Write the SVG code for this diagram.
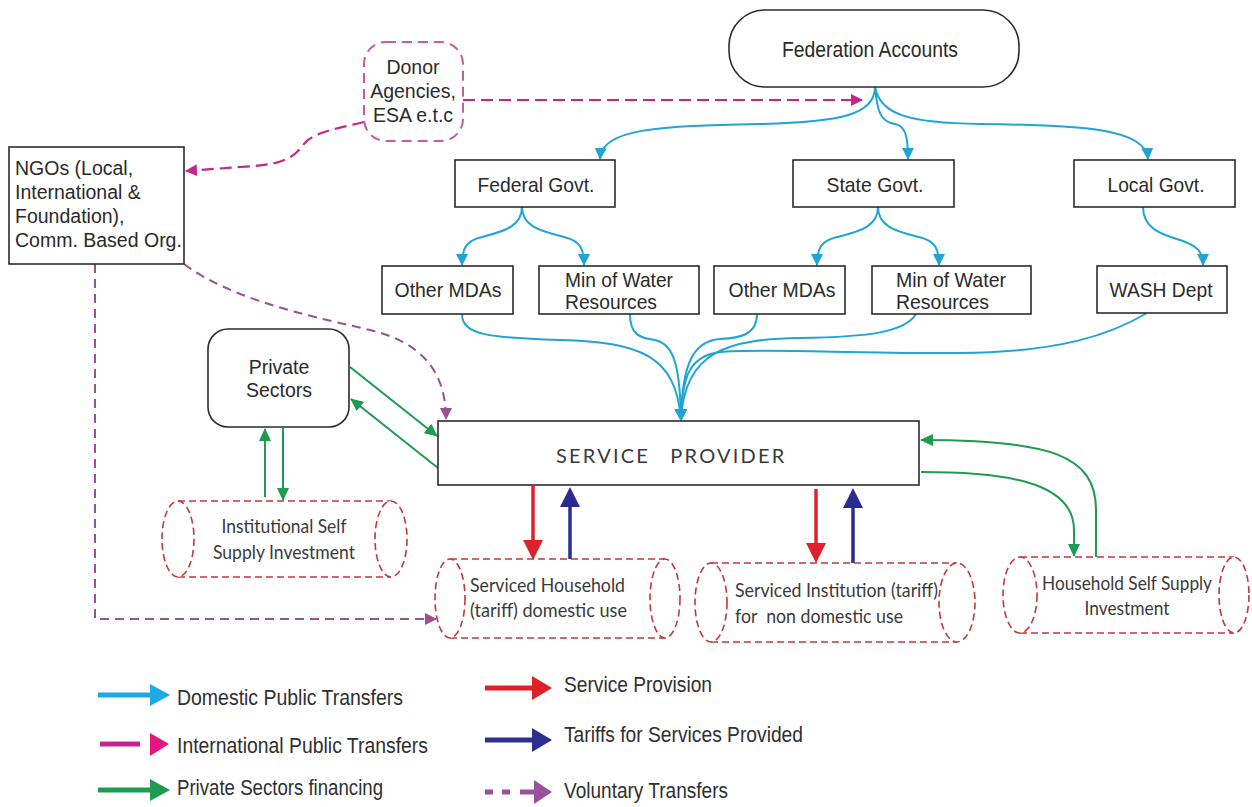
<svg xmlns="http://www.w3.org/2000/svg" width="1252" height="807" viewBox="0 0 1252 807">
<defs>
<style>
.box{fill:#fff;stroke:#2b2b2b;stroke-width:1.6}
.lbl{font-family:"Liberation Sans",Arial,sans-serif;fill:#2a2a2a}
.cal{font-family:Lato,"Open Sans",sans-serif;fill:#3a3a3a}
.cyl{fill:#fff;stroke:#c0393b;stroke-width:1.6;stroke-dasharray:7 4}
.cy{fill:none;stroke:#1ea5d5;stroke-width:2}
.gr{fill:none;stroke:#1e9a52;stroke-width:2}
.mg{fill:none;stroke:#c4268e;stroke-width:2.2;stroke-dasharray:12 6}
.vi{fill:none;stroke:#9b4f96;stroke-width:2;stroke-dasharray:9 6}
.leg{font-family:"Liberation Sans",Arial,sans-serif;font-size:22px;fill:#2f2f2f}
</style>
<marker id="mCy" markerUnits="userSpaceOnUse" markerWidth="12" markerHeight="12" refX="11" refY="6" orient="auto"><path d="M0,0 L12,6 L0,12 z" fill="#1ea5d5"/></marker>
<marker id="mGr" markerUnits="userSpaceOnUse" markerWidth="13" markerHeight="12" refX="12" refY="6" orient="auto"><path d="M0,0 L13,6 L0,12 z" fill="#1e9a52"/></marker>
<marker id="mMg" markerUnits="userSpaceOnUse" markerWidth="12" markerHeight="12" refX="11" refY="6" orient="auto"><path d="M0,0 L12,6 L0,12 z" fill="#c4268e"/></marker>
<marker id="mVi" markerUnits="userSpaceOnUse" markerWidth="12" markerHeight="12" refX="11" refY="6" orient="auto"><path d="M0,0 L12,6 L0,12 z" fill="#9b4f96"/></marker>
</defs>
<rect width="1252" height="807" fill="#ffffff"/>

<g id="connectors">
<!-- international public transfers -->
<path class="mg" d="M463,100 L862,100" marker-end="url(#mMg)"/>
<path class="mg" d="M364,122 C340,128 312,132 303,145 C292,160 280,165 240,167 L186,171" marker-end="url(#mMg)"/>
<!-- domestic public transfers -->
<path class="cy" d="M875,87 C875,115 840,122 760,124 C660,126 602,128 600,159" marker-end="url(#mCy)"/>
<path class="cy" d="M875,87 C877,110 880,122 895,124 C905,126 908,135 908,159" marker-end="url(#mCy)"/>
<path class="cy" d="M875,87 C880,115 910,123 980,124 C1080,125 1146,128 1148,159" marker-end="url(#mCy)"/>
<path class="cy" d="M522,207 C522,228 500,232 482,237 C466,241 462,248 462,265" marker-end="url(#mCy)"/>
<path class="cy" d="M522,207 C522,228 545,232 564,237 C580,241 584,248 584,265" marker-end="url(#mCy)"/>
<path class="cy" d="M878,207 C878,228 856,232 837,237 C821,241 817,248 817,265" marker-end="url(#mCy)"/>
<path class="cy" d="M878,207 C878,228 900,232 919,237 C935,241 939,248 939,265" marker-end="url(#mCy)"/>
<path class="cy" d="M1143,207 C1143,228 1160,234 1180,240 C1198,246 1203,252 1203,265" marker-end="url(#mCy)"/>
<path class="cy" d="M462,314 C462,335 490,338 560,340 C640,342 676,355 681,420" marker-end="url(#mCy)"/>
<path class="cy" d="M630,314 C630,335 640,338 655,340 C672,344 680,360 681,420" marker-end="url(#mCy)"/>
<path class="cy" d="M757,314 C757,335 740,338 720,339 C695,341 682,360 681,420" marker-end="url(#mCy)"/>
<path class="cy" d="M916,314 C905,332 870,337 800,338 C730,339 684,350 681,420" marker-end="url(#mCy)"/>
<path class="cy" d="M1147,313 C1110,335 1060,352 960,353 C860,354 760,348 720,352 C690,356 682,375 681,420" marker-end="url(#mCy)"/>
<!-- private sector financing -->
<path class="gr" d="M350,367 L437,436" marker-end="url(#mGr)"/>
<path class="gr" d="M438,468 L351,399" marker-end="url(#mGr)"/>
<path class="gr" d="M265,497 L265,429" marker-end="url(#mGr)"/>
<path class="gr" d="M283,428 L283,500" marker-end="url(#mGr)"/>
<path class="gr" d="M1096,557 L1096,510 C1096,455 1050,440 921,440" marker-end="url(#mGr)"/>
<path class="gr" d="M921,472 C1000,472 1074,480 1074,530 L1074,556" marker-end="url(#mGr)"/>
<!-- voluntary transfers -->
<path class="vi" d="M95,264 L95,619 L436,619" marker-end="url(#mVi)"/>
<path class="vi" d="M184,264 C235,302 320,318 370,330 C420,342 446,370 446,419" marker-end="url(#mVi)"/>
<!-- service provision / tariffs -->
<line x1="533" y1="486" x2="533" y2="542" stroke="#e0202a" stroke-width="3.5"/>
<polygon points="523,540 543,540 533,560" fill="#e0202a"/>
<line x1="570" y1="559" x2="570" y2="505" stroke="#2a2d8f" stroke-width="3.5"/>
<polygon points="560,507 580,507 570,487" fill="#2a2d8f"/>
<line x1="816" y1="489" x2="816" y2="545" stroke="#e0202a" stroke-width="3.5"/>
<polygon points="806,543 826,543 816,563" fill="#e0202a"/>
<line x1="853" y1="563" x2="853" y2="506" stroke="#2a2d8f" stroke-width="3.5"/>
<polygon points="843,508 863,508 853,488" fill="#2a2d8f"/>
</g>

<g id="federation-accounts">
<rect class="box" x="729" y="10" width="290" height="77" rx="36" ry="36"/>
<text class="lbl" x="870" y="57" font-size="22" text-anchor="middle" textLength="176" lengthAdjust="spacingAndGlyphs">Federation Accounts</text>
</g>

<g id="donor-agencies">
<rect x="364" y="42" width="99" height="99" rx="22" ry="22" fill="#fff" stroke="#c45aa8" stroke-width="2" stroke-dasharray="10 6"/>
<text class="lbl" font-size="19.5" text-anchor="middle"><tspan x="413" y="74">Donor</tspan><tspan x="413" y="98">Agencies,</tspan><tspan x="413" y="122">ESA e.t.c</tspan></text>
</g>

<g id="ngos">
<rect class="box" x="9" y="147" width="175" height="117"/>
<text class="lbl" font-size="19.5"><tspan x="15" y="175">NGOs (Local,</tspan><tspan x="15" y="199">International &amp;</tspan><tspan x="15" y="223">Foundation),</tspan><tspan x="15" y="247">Comm. Based Org.</tspan></text>
</g>

<g id="federal-govt">
<rect class="box" x="455" y="160" width="160" height="47"/>
<text class="lbl" x="536" y="192" font-size="21" text-anchor="middle" textLength="117" lengthAdjust="spacingAndGlyphs">Federal Govt.</text>
</g>
<g id="state-govt">
<rect class="box" x="793" y="160" width="161" height="47"/>
<text class="lbl" x="875" y="192" font-size="21" text-anchor="middle" textLength="97" lengthAdjust="spacingAndGlyphs">State Govt.</text>
</g>
<g id="local-govt">
<rect class="box" x="1074" y="160" width="161" height="47"/>
<text class="lbl" x="1156" y="192" font-size="21" text-anchor="middle" textLength="97" lengthAdjust="spacingAndGlyphs">Local Govt.</text>
</g>

<g id="other-mdas-federal">
<rect class="box" x="382" y="266" width="131" height="48"/>
<text class="lbl" x="448" y="297" font-size="21" text-anchor="middle" textLength="107" lengthAdjust="spacingAndGlyphs">Other MDAs</text>
</g>
<g id="min-water-federal">
<rect class="box" x="539" y="266" width="160" height="48"/>
<text class="lbl" font-size="21"><tspan x="565" y="287" textLength="108" lengthAdjust="spacingAndGlyphs">Min of Water</tspan><tspan x="565" y="309" textLength="92" lengthAdjust="spacingAndGlyphs">Resources</tspan></text>
</g>
<g id="other-mdas-state">
<rect class="box" x="714" y="266" width="131" height="48"/>
<text class="lbl" x="782" y="297" font-size="21" text-anchor="middle" textLength="107" lengthAdjust="spacingAndGlyphs">Other MDAs</text>
</g>
<g id="min-water-state">
<rect class="box" x="872" y="266" width="159" height="48"/>
<text class="lbl" font-size="21"><tspan x="896" y="287" textLength="110" lengthAdjust="spacingAndGlyphs">Min of Water</tspan><tspan x="896" y="309" textLength="93" lengthAdjust="spacingAndGlyphs">Resources</tspan></text>
</g>
<g id="wash-dept">
<rect class="box" x="1097" y="266" width="130" height="47"/>
<text class="lbl" x="1161" y="297" font-size="21" text-anchor="middle" textLength="103" lengthAdjust="spacingAndGlyphs">WASH Dept</text>
</g>

<g id="private-sectors">
<rect class="box" x="208" y="329" width="141" height="98" rx="20" ry="20"/>
<text class="lbl" font-size="19.5" text-anchor="middle"><tspan x="279" y="374">Private</tspan><tspan x="279" y="397">Sectors</tspan></text>
</g>

<g id="service-provider">
<rect class="box" x="438" y="421" width="481" height="64"/>
<text class="cal" x="556" y="463" font-size="20" letter-spacing="2.2" word-spacing="13" fill="#444">SERVICE PROVIDER</text>
</g>

<g id="institutional-self-supply">
<path class="cyl" d="M178,501 L391,501 M178,577 L391,577"/>
<ellipse class="cyl" cx="178" cy="539" rx="16" ry="38"/>
<ellipse class="cyl" cx="391" cy="539" rx="16" ry="38"/>
<text class="cal" font-size="19" text-anchor="middle"><tspan x="284" y="533" textLength="125" lengthAdjust="spacingAndGlyphs">Institutional Self</tspan><tspan x="284" y="559" textLength="142" lengthAdjust="spacingAndGlyphs">Supply Investment</tspan></text>
</g>

<g id="serviced-household">
<path class="cyl" d="M450,559 L665,559 M450,638 L665,638"/>
<ellipse class="cyl" cx="450" cy="598.5" rx="15" ry="39.5"/>
<ellipse class="cyl" cx="665" cy="598.5" rx="15" ry="39.5"/>
<text class="cal" font-size="19"><tspan x="470" y="592" textLength="155" lengthAdjust="spacingAndGlyphs">Serviced Household</tspan><tspan x="470" y="617" textLength="157" lengthAdjust="spacingAndGlyphs">(tariff) domestic use</tspan></text>
</g>

<g id="serviced-institution">
<path class="cyl" d="M711,563 L957,563 M711,642 L957,642"/>
<ellipse class="cyl" cx="711" cy="602.5" rx="16" ry="39.5"/>
<ellipse class="cyl" cx="957" cy="602.5" rx="18" ry="39.5"/>
<text class="cal" font-size="19" style="white-space:pre"><tspan x="735" y="597" textLength="203" lengthAdjust="spacingAndGlyphs">Serviced Institution (tariff)</tspan><tspan x="735" y="623" textLength="168" lengthAdjust="spacingAndGlyphs">for  non domestic use</tspan></text>
</g>

<g id="household-self-supply">
<path class="cyl" d="M1020,557 L1234,557 M1020,633 L1234,633"/>
<ellipse class="cyl" cx="1020" cy="595" rx="17" ry="38"/>
<ellipse class="cyl" cx="1234" cy="595" rx="15" ry="38"/>
<text class="cal" font-size="19" text-anchor="middle"><tspan x="1127" y="590" textLength="170" lengthAdjust="spacingAndGlyphs">Household Self Supply</tspan><tspan x="1127" y="615" textLength="85" lengthAdjust="spacingAndGlyphs">Investment</tspan></text>
</g>

<g id="legend">
<line x1="98" y1="695" x2="152" y2="695" stroke="#1da9e1" stroke-width="5"/>
<polygon points="150,684 170,695 150,706" fill="#1da9e1"/>
<text class="leg" x="177" y="705" textLength="226" lengthAdjust="spacingAndGlyphs">Domestic Public Transfers</text>
<line x1="100" y1="744" x2="140" y2="744" stroke="#c4268e" stroke-width="5"/>
<polygon points="150,733 169,744 150,756" fill="#e6157f"/>
<text class="leg" x="177" y="753" textLength="251" lengthAdjust="spacingAndGlyphs">International Public Transfers</text>
<line x1="98" y1="790" x2="152" y2="790" stroke="#1e9a52" stroke-width="5"/>
<polygon points="150,779 170,790 150,801" fill="#1e9a52"/>
<text class="leg" x="177" y="795" textLength="206" lengthAdjust="spacingAndGlyphs">Private Sectors financing</text>
<line x1="485" y1="688" x2="534" y2="688" stroke="#df2027" stroke-width="5"/>
<polygon points="532,676 552,688 532,700" fill="#df2027"/>
<text class="leg" x="564" y="692" textLength="148" lengthAdjust="spacingAndGlyphs">Service Provision</text>
<line x1="485" y1="740" x2="534" y2="740" stroke="#2b2f8f" stroke-width="5"/>
<polygon points="532,728 552,740 532,752" fill="#2b2f8f"/>
<text class="leg" x="564" y="742" textLength="239" lengthAdjust="spacingAndGlyphs">Tariffs for Services Provided</text>
<line x1="485" y1="792" x2="493" y2="792" stroke="#9c4f9a" stroke-width="5"/>
<line x1="502" y1="792" x2="510" y2="792" stroke="#9c4f9a" stroke-width="5"/>
<line x1="520" y1="792" x2="536" y2="792" stroke="#9c4f9a" stroke-width="5"/>
<polygon points="534,780 552,792 534,804" fill="#9c4f9a"/>
<text class="leg" x="564" y="798" textLength="164" lengthAdjust="spacingAndGlyphs">Voluntary Transfers</text>
</g>
</svg>
